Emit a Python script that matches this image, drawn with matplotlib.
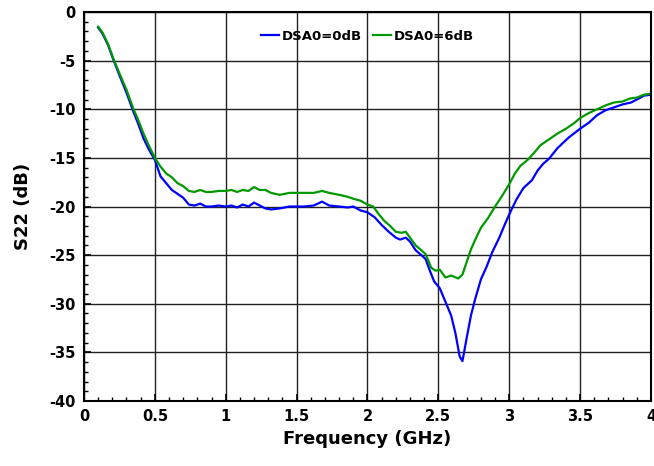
import matplotlib
matplotlib.use('Agg')
import matplotlib.pyplot as plt
from matplotlib.ticker import MultipleLocator

plt.rcParams.update({'font.size': 11, 'font.weight': 'bold', 'axes.unicode_minus': False})

# S22 data
freq_0db = [0.10, 0.13, 0.17, 0.21, 0.25, 0.30, 0.35, 0.38, 0.42, 0.46, 0.50, 0.54, 0.58,
            0.62, 0.66, 0.70, 0.74, 0.78, 0.82, 0.86, 0.90, 0.95, 1.00, 1.04, 1.08, 1.12,
            1.16, 1.20, 1.24, 1.28, 1.32, 1.38, 1.45, 1.55, 1.62, 1.68, 1.73, 1.80, 1.86,
            1.90, 1.95, 2.00, 2.05, 2.10, 2.15, 2.20, 2.23, 2.27, 2.30, 2.34, 2.38, 2.41,
            2.44, 2.47, 2.51, 2.55, 2.59, 2.62, 2.65, 2.67, 2.70, 2.73, 2.76, 2.80, 2.84,
            2.88, 2.93, 2.97, 3.01, 3.05, 3.10, 3.16, 3.20, 3.24, 3.28, 3.34, 3.42, 3.50,
            3.56, 3.62, 3.68, 3.74, 3.80, 3.86, 3.90, 3.95, 4.00]
s22_0db = [-1.6, -2.2, -3.4, -5.0, -6.5, -8.3, -10.3, -11.4, -13.0, -14.2, -15.2, -16.9, -17.6,
           -18.3, -18.7, -19.1, -19.8, -19.9, -19.7, -20.0, -20.0, -19.9, -20.0, -19.9, -20.1, -19.8,
           -20.0, -19.6, -19.9, -20.2, -20.3, -20.2, -20.0, -20.0, -19.9, -19.5, -19.9, -20.0, -20.1,
           -20.0, -20.4, -20.6, -21.1, -21.9, -22.6, -23.2, -23.4, -23.2, -23.6, -24.5, -25.0, -25.4,
           -26.6, -27.7, -28.4, -29.8, -31.2, -33.0, -35.4, -35.9, -33.5, -31.2, -29.5, -27.5, -26.2,
           -24.7, -23.2, -21.8, -20.5, -19.3, -18.1, -17.3, -16.3, -15.6, -15.1, -14.0, -12.9, -12.0,
           -11.4, -10.6, -10.1, -9.8, -9.5, -9.3, -9.0, -8.6, -8.5]

freq_6db = [0.10, 0.13, 0.17, 0.21, 0.25, 0.30, 0.35, 0.38, 0.42, 0.46, 0.50, 0.54, 0.58,
            0.62, 0.66, 0.70, 0.74, 0.78, 0.82, 0.86, 0.90, 0.95, 1.00, 1.04, 1.08, 1.12,
            1.16, 1.20, 1.24, 1.28, 1.32, 1.38, 1.45, 1.55, 1.62, 1.68, 1.73, 1.80, 1.86,
            1.90, 1.95, 2.00, 2.04, 2.08, 2.12, 2.16, 2.20, 2.24, 2.27, 2.30, 2.34, 2.38,
            2.41, 2.45, 2.48, 2.51, 2.55, 2.59, 2.64, 2.67, 2.70, 2.73, 2.77, 2.80, 2.85,
            2.90, 2.95, 3.00, 3.04, 3.08, 3.13, 3.18, 3.22, 3.28, 3.34, 3.40, 3.46, 3.50,
            3.56, 3.62, 3.68, 3.74, 3.80, 3.85, 3.90, 3.95, 4.00]
s22_6db = [-1.5, -2.1, -3.3, -4.9, -6.3, -8.0, -10.0, -11.0, -12.5, -13.8, -15.0, -15.9, -16.6,
           -17.0, -17.6, -17.9, -18.4, -18.5, -18.3, -18.5, -18.5, -18.4, -18.4, -18.3, -18.5, -18.3,
           -18.4, -18.0, -18.3, -18.3, -18.6, -18.8, -18.6, -18.6, -18.6, -18.4, -18.6, -18.8, -19.0,
           -19.2, -19.4, -19.8, -20.0, -20.8, -21.5, -22.0, -22.6, -22.7, -22.6, -23.2, -24.0, -24.5,
           -24.9, -26.3, -26.6, -26.5, -27.3, -27.1, -27.4, -27.0, -25.7, -24.4, -23.1, -22.2, -21.2,
           -20.0, -18.9, -17.7, -16.6, -15.8, -15.2, -14.4, -13.7, -13.1, -12.5, -12.0, -11.4, -10.9,
           -10.4, -10.0, -9.6, -9.3, -9.2, -8.9, -8.8, -8.5, -8.4]

fig = plt.figure(figsize=(6.54, 4.66), dpi=100)
ax = fig.add_axes([0.1284, 0.1395, 0.867, 0.8347])

ax.plot(freq_0db, s22_0db, color='#0000ff', linewidth=1.6, label='DSA0=0dB')
ax.plot(freq_6db, s22_6db, color='#009900', linewidth=1.6, label='DSA0=6dB')

ax.set_xlim(0, 4)
ax.set_ylim(-40, 0)
ax.xaxis.set_major_locator(MultipleLocator(0.5))
ax.xaxis.set_minor_locator(MultipleLocator(0.1))
ax.yaxis.set_major_locator(MultipleLocator(5))
ax.yaxis.set_minor_locator(MultipleLocator(1))
ax.set_xticks([0, 0.5, 1, 1.5, 2, 2.5, 3, 3.5, 4])
ax.set_xticklabels(['0', '0.5', '1', '1.5', '2', '2.5', '3', '3.5', '4'])
ax.tick_params(which='major', direction='in', length=5, width=1.2, labelsize=10.5, pad=6)
ax.tick_params(which='minor', direction='in', length=3, width=1)
ax.grid(which='major', color='#222222', linewidth=1)
for sp in ax.spines.values():
    sp.set_linewidth(1.5)

ax.set_xlabel('Frequency (GHz)', fontsize=13, fontweight='bold', labelpad=4)
ax.set_ylabel('S22 (dB)', fontsize=13, fontweight='bold', labelpad=12)

leg = ax.legend(loc='upper center', bbox_to_anchor=(0.5, 0.985), ncol=2, frameon=False,
                fontsize=9.5, handlelength=1.4, handletextpad=0.2, columnspacing=0.8)

plt.savefig('out.png', dpi=100)
